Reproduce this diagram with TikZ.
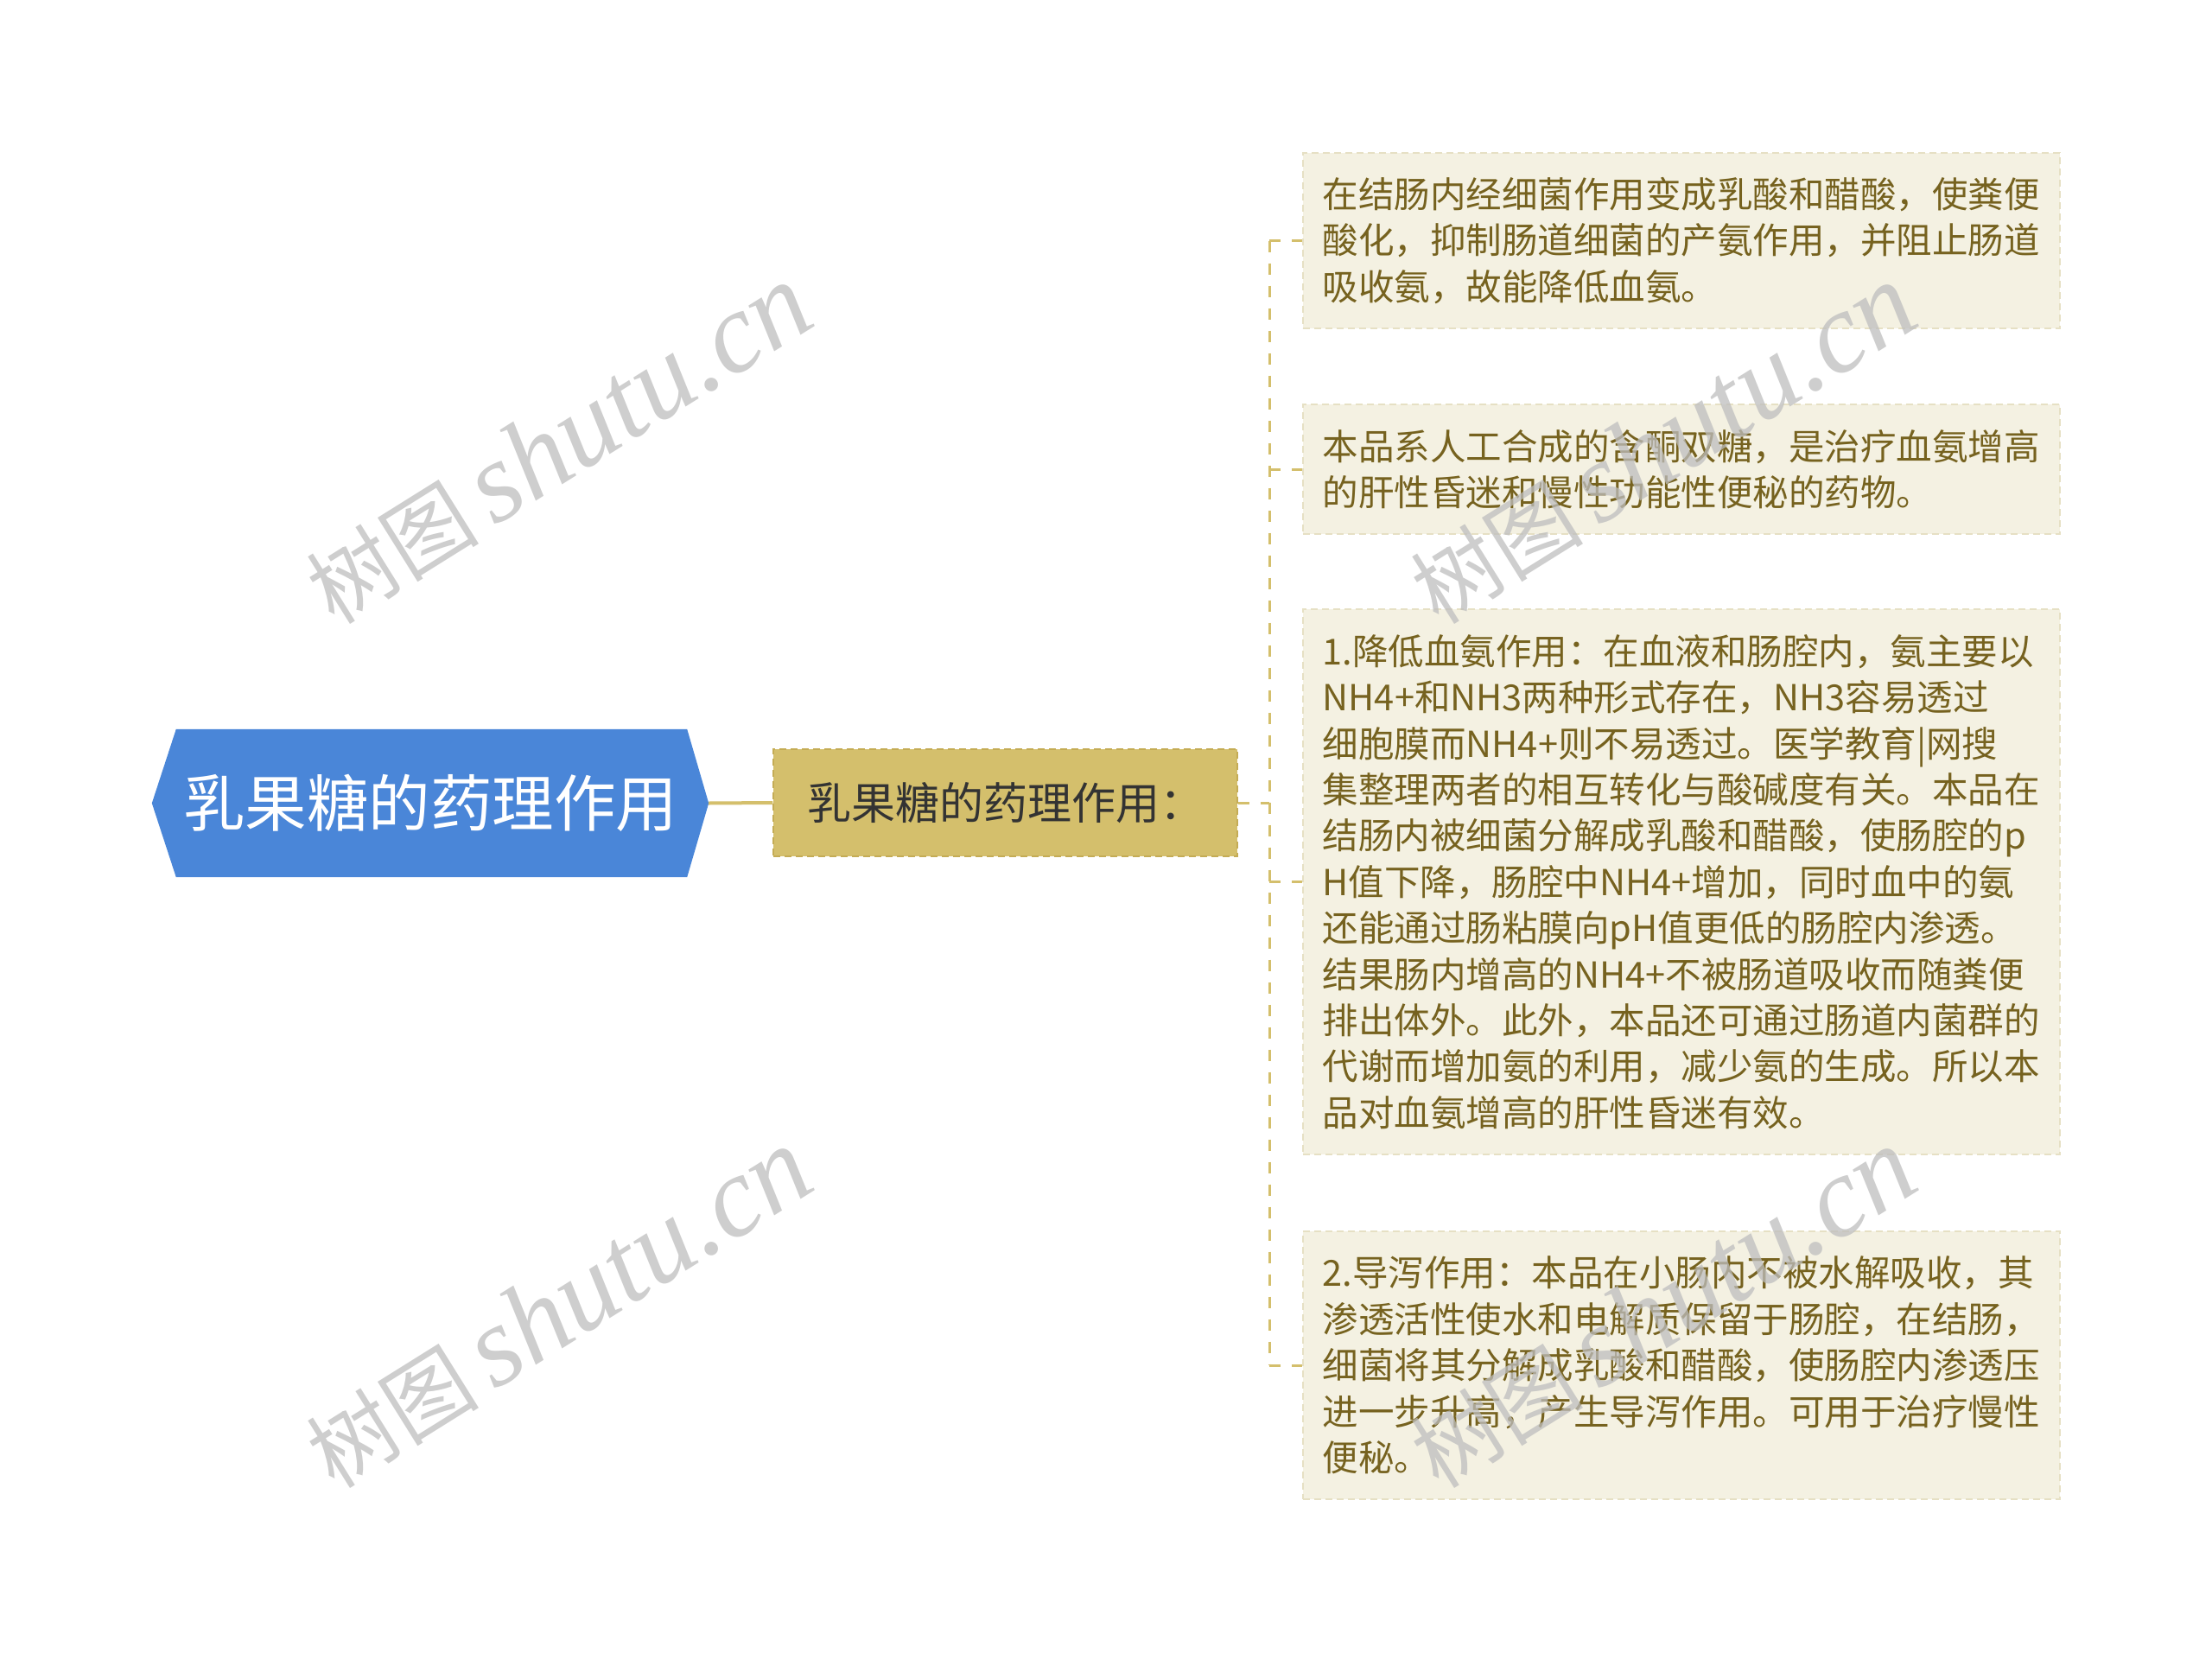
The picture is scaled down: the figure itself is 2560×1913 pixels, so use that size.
\documentclass[tikz,border=0pt]{standalone}
\usepackage{fontspec}
\newfontfamily\cjk{Noto Sans CJK SC}
\newfontfamily\wmfont{Liberation Serif}
\usetikzlibrary{backgrounds,calc}
\definecolor{rootblue}{HTML}{4A86D8}
\definecolor{midfill}{HTML}{D4BF6C}
\definecolor{midborder}{HTML}{C4AC55}
\definecolor{leaffill}{HTML}{F4F1E2}
\definecolor{leafborder}{HTML}{E6E0C4}
\definecolor{leaftext}{HTML}{76621F}
\definecolor{linecol}{HTML}{D4BF6C}
\definecolor{wmgray}{HTML}{BEBEBE}
\newcommand{\wmtext}{{\cjk\fontsize{100}{110}\selectfont 树图}\hspace{18pt}{\wmfont\itshape\fontsize{132}{140}\selectfont shutu.cn}}
\begin{document}
\begin{tikzpicture}[x=1pt,y=-1pt,
  rootnode/.style={minimum width=644pt, minimum height=171pt, inner sep=0pt, text=white, font=\cjk\fontsize{71.5}{80}\selectfont},
  midnode/.style={fill=midfill, draw=midborder, dash pattern=on 8pt off 5pt, line width=1.5pt, minimum width=537pt, minimum height=124pt, inner sep=0pt, text=black!80, font=\cjk\fontsize{51}{60}\selectfont},
  leafnode/.style={fill=leaffill, draw=leafborder, dash pattern=on 8pt off 5pt, line width=1.5pt, text width=830pt, inner xsep=23pt, inner ysep=0pt, align=left, text=leaftext, font=\cjk\fontsize{41.5}{53.4}\selectfont, anchor=west},
  branch/.style={draw=linecol, line width=3pt, dash pattern=on 13pt off 13pt},
  wm/.style={text=wmgray, opacity=0.75, rotate=32, inner sep=0pt}
]
\useasboundingbox (0,0) rectangle (2560,1913);

\node[rootnode] (root) at (498,929.5) {乳果糖的药理作用};
\begin{scope}[on background layer]
  \fill[white] (0,0) rectangle (2560,1913);
  \fill[rootblue] (root.west) -- ([xshift=28pt]root.north west) -- ([xshift=-25pt]root.north east)
    -- (root.east) -- ([xshift=-25pt]root.south east) -- ([xshift=28pt]root.south west) -- cycle;
\end{scope}

\node[midnode] (mid) at (1163.5,929) {乳果糖的药理作用：};

\node[leafnode, minimum height=203pt] (l1) at (1507,278.5) {在结肠内经细菌作用变成乳酸和醋酸，使粪便\\
酸化，抑制肠道细菌的产氨作用，并阻止肠道\\
吸收氨，故能降低血氨。};

\node[leafnode, minimum height=150pt] (l2) at (1507,543) {本品系人工合成的含酮双糖，是治疗血氨增高\\
的肝性昏迷和慢性功能性便秘的药物。};

\node[leafnode, minimum height=631pt] (l3) at (1507,1020.5) {1.降低血氨作用：在血液和肠腔内，氨主要以\\
NH4+和NH3两种形式存在，NH3容易透过\\
细胞膜而NH4+则不易透过。医学教育|网搜\\
集整理两者的相互转化与酸碱度有关。本品在\\
结肠内被细菌分解成乳酸和醋酸，使肠腔的p\\
H值下降，肠腔中NH4+增加，同时血中的氨\\
还能通过肠粘膜向pH值更低的肠腔内渗透。\\
结果肠内增高的NH4+不被肠道吸收而随粪便\\
排出体外。此外，本品还可通过肠道内菌群的\\
代谢而增加氨的利用，减少氨的生成。所以本\\
品对血氨增高的肝性昏迷有效。};

\node[leafnode, minimum height=310pt] (l4) at (1507,1580) {2.导泻作用：本品在小肠内不被水解吸收，其\\
渗透活性使水和电解质保留于肠腔，在结肠，\\
细菌将其分解成乳酸和醋酸，使肠腔内渗透压\\
进一步升高，产生导泻作用。可用于治疗慢性\\
便秘。};

\draw[line width=4pt, linecol] (root.east) -- (mid.west);
\coordinate (br) at (1469,929);
\coordinate (b1) at (br |- l1.west);
\coordinate (b2) at (br |- l2.west);
\coordinate (b3) at (br |- l3.west);
\coordinate (b4) at (br |- l4.west);
\draw[branch] (mid.east) -- (br);
\draw[branch] (b1) -- (b4);
\draw[branch] (b1) -- (l1.west);
\draw[branch] (b2) -- (l2.west);
\draw[branch] (b3) -- (l3.west);
\draw[branch] (b4) -- (l4.west);

\node[wm] (wm1) at (646,514) {\wmtext};
\node[wm] (wm2) at (1924,514) {\wmtext};
\node[wm] (wm3) at (646,1514) {\wmtext};
\node[wm] (wm4) at (1924,1514) {\wmtext};
\end{tikzpicture}
\end{document}
